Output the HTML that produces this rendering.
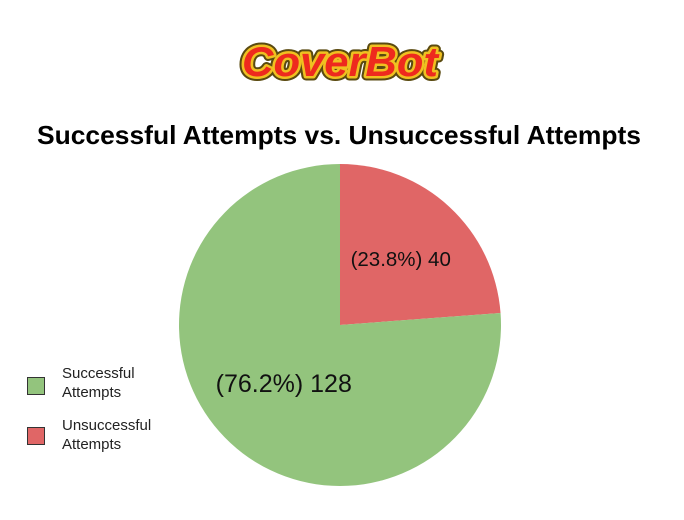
<!DOCTYPE html>
<html><head><meta charset="utf-8"><style>
body{margin:0;background:#fff;width:684px;height:515px;overflow:hidden;font-family:"Liberation Sans",sans-serif}
</style></head><body>
<svg width="684" height="515">
<g>
<text x="340" y="76" text-anchor="middle" font-family="Liberation Sans" font-weight="bold" font-style="italic" font-size="42" fill="none" stroke="#5a4a10" stroke-width="9" stroke-linejoin="round" textLength="196" lengthAdjust="spacingAndGlyphs">CoverBot</text>
<text x="340" y="76" text-anchor="middle" font-family="Liberation Sans" font-weight="bold" font-style="italic" font-size="42" fill="none" stroke="#f0c020" stroke-width="5" stroke-linejoin="round" textLength="196" lengthAdjust="spacingAndGlyphs">CoverBot</text>
<text x="340" y="76" text-anchor="middle" font-family="Liberation Sans" font-weight="bold" font-style="italic" font-size="42" fill="#ee2a1e" textLength="196" lengthAdjust="spacingAndGlyphs">CoverBot</text>
</g>
<text x="339" y="144" text-anchor="middle" font-weight="bold" font-size="26" fill="#000" textLength="604" lengthAdjust="spacingAndGlyphs">Successful Attempts vs. Unsuccessful Attempts</text>
<g id="slices"></g>
<g>
<rect x="27.5" y="377.5" width="17" height="17" fill="#93c47d" stroke="#333"/>
<text x="62" y="378" font-size="15" fill="#222">Successful</text>
<text x="62" y="397" font-size="15" fill="#222">Attempts</text>
<rect x="27.5" y="427.5" width="17" height="17" fill="#e06666" stroke="#333"/>
<text x="62" y="430" font-size="15" fill="#222">Unsuccessful</text>
<text x="62" y="449" font-size="15" fill="#222">Attempts</text>
</g>
</svg>
<script>
const categories=["Unsuccessful Attempts","Successful Attempts"];
const values=[40,128];
const colors=["#e06666","#93c47d"];
const cx=340,cy=325,r=161;
const g=document.getElementById('slices');
const ns="http://www.w3.org/2000/svg";
const total=values.reduce((a,b)=>a+b,0);
let a0=0;
values.forEach((v,i)=>{
  const frac=v/total,a1=a0+frac*2*Math.PI;
  const p=(a)=>[cx+r*Math.sin(a),cy-r*Math.cos(a)];
  const [x0,y0]=p(a0),[x1,y1]=p(a1);
  const path=document.createElementNS(ns,'path');
  path.setAttribute('d',`M${cx},${cy}L${x0},${y0}A${r},${r} 0 ${frac>0.5?1:0} 1 ${x1},${y1}Z`);
  path.setAttribute('fill',colors[i]);
  
  
  g.appendChild(path);
  const mid=(a0+a1)/2,lr=i===0?r*0.6:r*0.55;
  const t=document.createElementNS(ns,'text');
  t.setAttribute('x',cx+lr*Math.sin(mid)+(i===0?-5:4));
  t.setAttribute('y',cy-lr*Math.cos(mid)+(i===0?12:2));
  t.setAttribute('text-anchor','middle');
  t.setAttribute('font-size',i===0?20.5:25);
  t.setAttribute('fill','#111');
  t.textContent='('+(frac*100).toFixed(1)+'%) '+v;
  
  
  g.appendChild(t);
  a0=a1;
});
</script>
</body></html>
